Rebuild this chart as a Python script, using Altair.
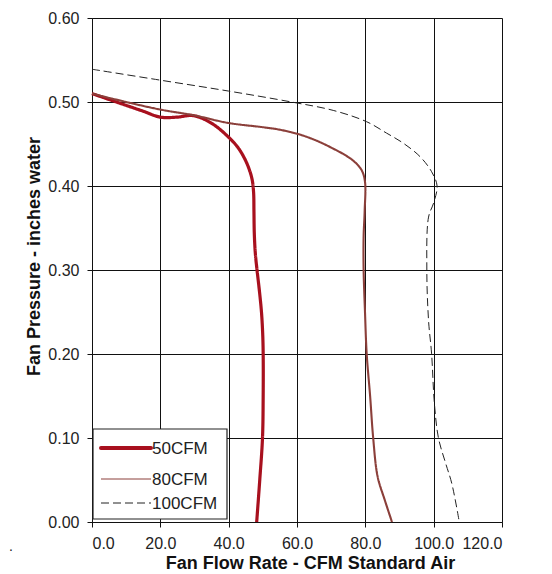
import altair as alt
import pandas as pd

# ---- data ----
series_names = ["50CFM", "80CFM", "100CFM"]
series_colors = ["#A8101E", "#8B3F3A", "#222222"]
series_widths = [3.2, 1.0, 1.0]
series_dashes = [[1, 0], [1, 0], [8, 4]]

flow_50 = [0, 5, 10, 15, 20, 25, 29, 32, 36, 40, 42.5, 44.5, 46.0, 46.9, 47.3, 47.4, 47.5, 47.8, 48.3, 49.0, 49.6, 49.95, 50.1, 50.1, 49.9, 49.1, 48.2]
pres_50 = [0.510, 0.503, 0.496, 0.489, 0.482, 0.482, 0.484, 0.481, 0.472, 0.458, 0.447, 0.434, 0.420, 0.407, 0.392, 0.370, 0.344, 0.320, 0.300, 0.275, 0.250, 0.225, 0.200, 0.150, 0.100, 0.050, 0.000]

flow_80 = [0, 10, 20, 30, 40, 50, 55, 61, 66, 70.6, 74, 76.5, 78.9, 79.9, 79.8, 79.5, 79.5, 79.9, 80.4, 81.4, 82.3, 83.6, 85.7, 87.8]
pres_80 = [0.510, 0.500, 0.491, 0.484, 0.475, 0.470, 0.467, 0.461, 0.4535, 0.4445, 0.437, 0.430, 0.419, 0.405, 0.370, 0.340, 0.300, 0.250, 0.200, 0.150, 0.100, 0.054, 0.026, 0.000]

flow_100 = [0, 20, 40, 58.4, 70.6, 80.4, 86.2, 91.1, 96.0, 99.4, 101.0, 100.0, 98.5, 98.0, 98.5, 99.4, 100.2, 101.4, 103.5, 105.3, 107.5]
pres_100 = [0.539, 0.526, 0.513, 0.500, 0.490, 0.4765, 0.463, 0.451, 0.435, 0.417, 0.400, 0.380, 0.363, 0.300, 0.240, 0.200, 0.142, 0.100, 0.070, 0.046, 0.000]

x_ticks = [0, 20, 40, 60, 80, 100, 120]
y_ticks = [0.0, 0.1, 0.2, 0.3, 0.4, 0.5, 0.6]

rows = []
for name, xs, ys in zip(series_names, [flow_50, flow_80, flow_100], [pres_50, pres_80, pres_100]):
    for i, (xv, yv) in enumerate(zip(xs, ys)):
        rows.append({"series": name, "flow": xv, "pressure": yv, "idx": i})
df = pd.DataFrame(rows)

FONT = "Liberation Sans"

lines = alt.Chart(df).mark_line(interpolate="catmull-rom").encode(
    x=alt.X("flow:Q",
            scale=alt.Scale(domain=[0, 120], nice=False),
            axis=alt.Axis(values=x_ticks, format=".1f",
                          title="Fan Flow Rate - CFM Standard Air",
                          titleX=218, titleY=46, titleBaseline="alphabetic")),
    y=alt.Y("pressure:Q",
            scale=alt.Scale(domain=[0, 0.6], nice=False),
            axis=alt.Axis(values=y_ticks, format=".2f",
                          title="Fan Pressure - inches water",
                          titleX=-58, titleY=238, titleAngle=270,
                          titleAlign="center", titleBaseline="middle")),
    order="idx:Q",
    color=alt.Color("series:N", scale=alt.Scale(domain=series_names, range=series_colors), legend=None),
    strokeWidth=alt.StrokeWidth("series:N", scale=alt.Scale(domain=series_names, range=series_widths), legend=None),
    strokeDash=alt.StrokeDash("series:N", scale=alt.Scale(domain=series_names, range=series_dashes), legend=None),
)

# ---- hand-made legend box (bottom-left inside the plot) ----
box = alt.Chart(pd.DataFrame({"k": [0]})).mark_rect(
    fill="white", stroke="#222222", strokeWidth=1.2
).encode(x=alt.value(1), x2=alt.value(135), y=alt.value(411), y2=alt.value(501))

legend_layers = [box]
row_y = [430, 461, 485]
legend_sym_widths = [4.0, 1.0, 1.0]
for name, col, w, d, yy in zip(series_names, series_colors, legend_sym_widths, series_dashes, row_y):
    ldf = pd.DataFrame({"series": [name]})
    legend_layers.append(
        alt.Chart(ldf).mark_rule(color=col, strokeWidth=w, strokeDash=d, strokeCap="round" if w > 2 else "butt").encode(
            x=alt.value(9), x2=alt.value(59), y=alt.value(yy))
    )
    legend_layers.append(
        alt.Chart(ldf).mark_text(font=FONT, fontSize=17, color="#222222", align="left", baseline="middle").encode(
            text="series:N", x=alt.value(60), y=alt.value(yy + 1))
    )

dot_df = pd.DataFrame({"t": ["."]})
dot = alt.Chart(dot_df).mark_text(font=FONT, fontSize=14, color="#222222", align="left", baseline="alphabetic").encode(
    text="t:N", x=alt.value(-83), y=alt.value(533)
)

chart = alt.layer(lines, *legend_layers, dot).properties(
    width=410, height=504,
    autosize=alt.AutoSizeParams(type="none"),
    padding={"left": 84, "top": 10, "right": 34, "bottom": 52},
    background="white",
).configure_axis(
    grid=True, gridColor="#111111", gridWidth=1, gridOpacity=1,
    domainColor="#111111", domainWidth=1,
    tickColor="#111111", tickSize=5, tickWidth=1,
    labelFont=FONT, labelFontSize=16, labelColor="#222222",
    titleFont=FONT, titleFontSize=18, titleFontWeight="bold", titleColor="#111111",
).configure_axisY(labelPadding=8).configure_axisX(labelPadding=8).configure_view(
    stroke=None
)

chart.save("out.html", embed_options={"renderer": "svg", "actions": False})
